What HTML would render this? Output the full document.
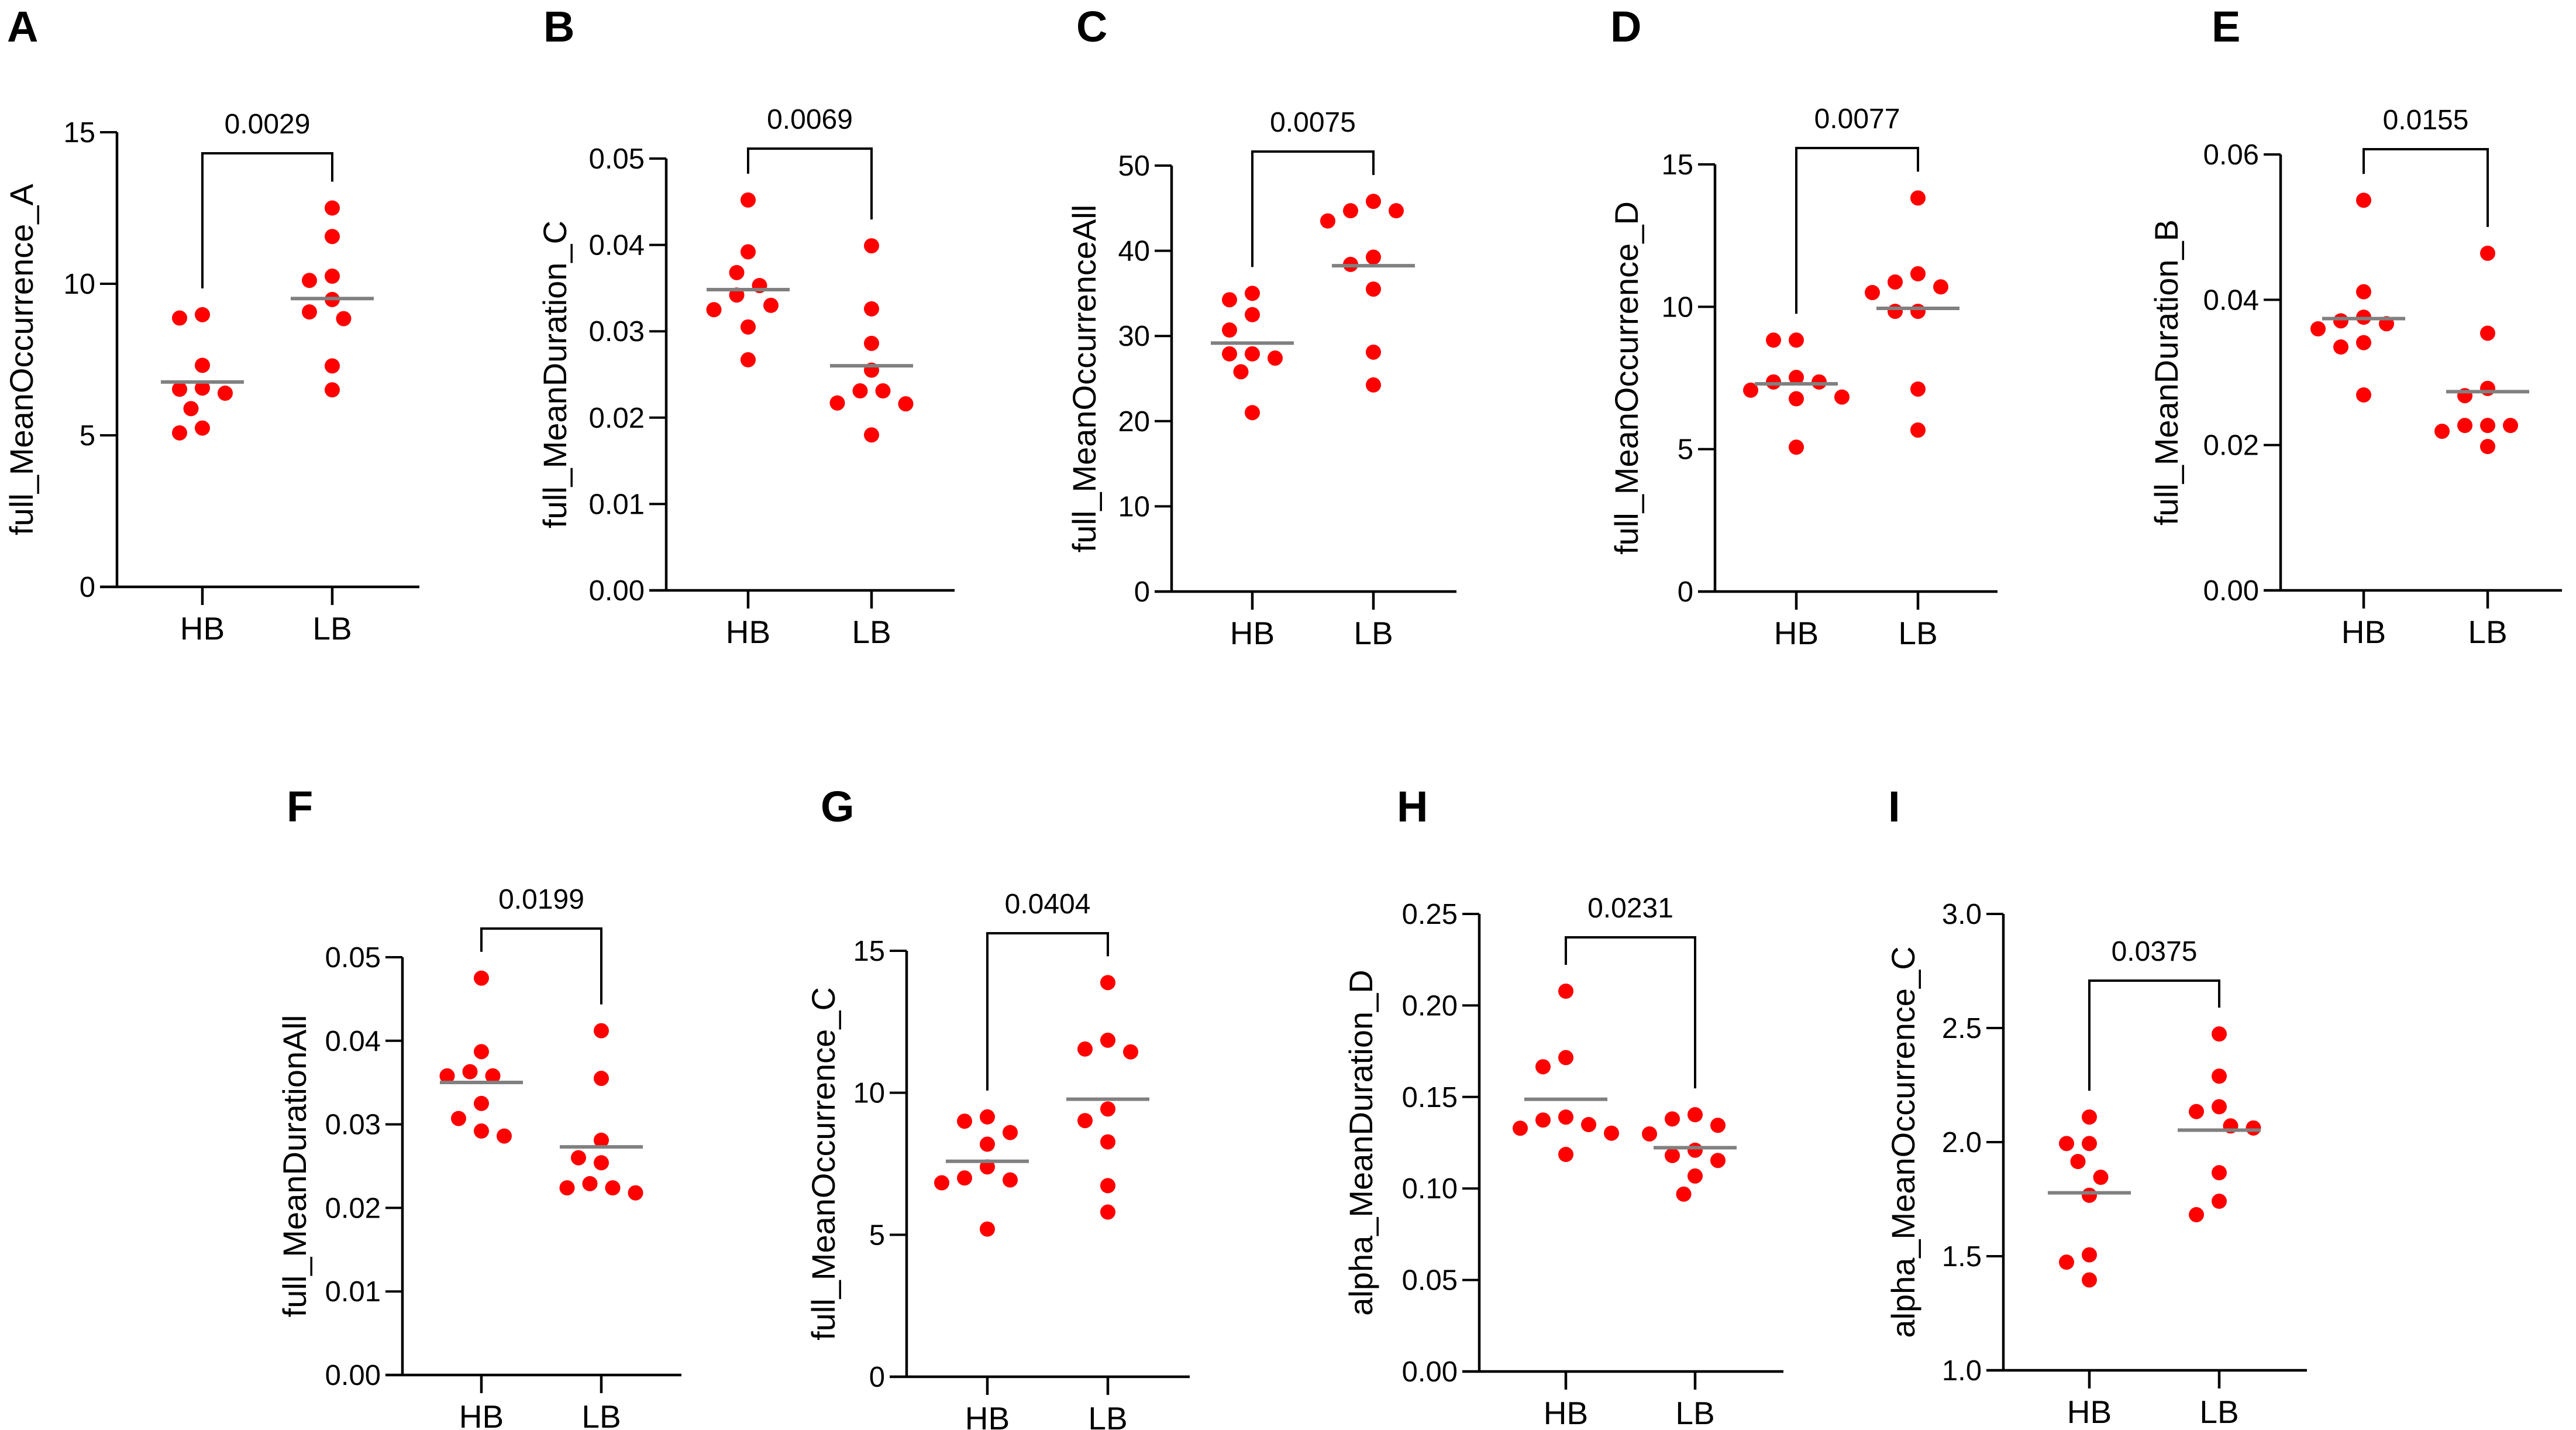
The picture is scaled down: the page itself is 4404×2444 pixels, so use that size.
<!DOCTYPE html>
<html><head><meta charset="utf-8"><style>
html,body{margin:0;padding:0;background:#fff;}
svg{display:block;font-family:"Liberation Sans",Arial,sans-serif;}
</style></head><body>
<svg id="fig" width="4404" height="2444" viewBox="0 0 4404 2444" xmlns="http://www.w3.org/2000/svg"></svg>
<script>
// ---- data ----
const panelLetters = ["A","B","C","D","E","F","G","H","I"];
const yTitles = ["full_MeanOccurrence_A","full_MeanDuration_C","full_MeanOccurrenceAll","full_MeanOccurrence_D","full_MeanDuration_B","full_MeanDurationAll","full_MeanOccurrence_C","alpha_MeanDuration_D","alpha_MeanOccurrence_C"];
const pValues = ["0.0029","0.0069","0.0075","0.0077","0.0155","0.0199","0.0404","0.0231","0.0375"];
const groups = ["HB","LB"];
const yDomains = [[0,15],[0,0.05],[0,50],[0,15],[0,0.06],[0,0.05],[0,15],[0,0.25],[1,3]];
const yTickSets = [[0,5,10,15],[0,0.01,0.02,0.03,0.04,0.05],[0,10,20,30,40,50],[0,5,10,15],[0,0.02,0.04,0.06],[0,0.01,0.02,0.03,0.04,0.05],[0,5,10,15],[0,0.05,0.10,0.15,0.20,0.25],[1.0,1.5,2.0,2.5,3.0]];
const yTickDecimals = [0,2,0,0,2,2,0,2,1];
const hbA = [8.87,8.98,7.31,6.52,6.39,6.56,5.88,5.24,5.08];
const lbA = [12.5,11.56,10.11,10.25,9.48,8.85,9.07,7.29,6.5];
const hbB = [0.0452,0.0392,0.0368,0.0353,0.0342,0.0325,0.0330,0.0305,0.0267];
const lbB = [0.0399,0.0326,0.0286,0.0255,0.0231,0.0231,0.0217,0.0216,0.0180];
const hbC = [35.0,34.25,32.5,30.7,27.9,27.9,27.4,25.8,21.0];
const lbC = [45.8,44.7,44.7,43.5,39.25,38.4,35.5,28.1,24.25];
const hbD = [8.83,8.83,7.52,7.36,7.36,7.07,6.83,6.77,5.07];
const lbD = [13.82,11.16,10.87,10.7,10.5,9.84,9.84,7.11,5.67];
const hbE = [0.0537,0.0411,0.0376,0.0367,0.0371,0.0360,0.0341,0.0335,0.0269];
const lbE = [0.0464,0.0354,0.0278,0.0268,0.0227,0.0227,0.0227,0.0219,0.0198];
const hbF = [0.0475,0.0387,0.0363,0.0358,0.0358,0.0325,0.0307,0.0292,0.0286];
const lbF = [0.0412,0.0355,0.0281,0.0260,0.0254,0.0229,0.0224,0.0224,0.0218];
const hbG = [9.15,9.0,8.6,8.19,7.39,7.0,6.93,6.83,5.2];
const lbG = [13.88,11.85,11.54,11.44,9.43,9.02,8.27,6.73,5.8];
const hbH = [0.2078,0.1715,0.1665,0.139,0.1374,0.1349,0.1329,0.1302,0.1186];
const lbH = [0.1403,0.138,0.1345,0.1298,0.1209,0.118,0.1153,0.1068,0.0969];
const hbI = [2.11,1.994,1.994,1.915,1.846,1.767,1.506,1.474,1.396];
const lbI = [2.474,2.289,2.155,2.134,2.071,2.062,1.866,1.741,1.682];
const hbSeries = [hbA,hbB,hbC,hbD,hbE,hbF,hbG,hbH,hbI];
const lbSeries = [lbA,lbB,lbC,lbD,lbE,lbF,lbG,lbH,lbI];

// ---- layout (pixels) ----
const layout = [
 {ax:200, yt:226, yb:1003, xe:717, hb:346, lb:568, br:262, to:159, lx:12, ly:71},
 {ax:1139,yt:271, yb:1009, xe:1632,hb:1279,lb:1490,br:254, to:186, lx:929, ly:71},
 {ax:2003,yt:283, yb:1011, xe:2490,hb:2141,lb:2348,br:259, to:145, lx:1840, ly:71},
 {ax:2932,yt:281, yb:1011, xe:3415,hb:3071,lb:3279,br:253, to:147, lx:2753, ly:71},
 {ax:3899,yt:264, yb:1009, xe:4380,hb:4041,lb:4253,br:255, to:191, lx:3781, ly:71},
 {ax:688, yt:1636,yb:2350, xe:1165,hb:823, lb:1028,br:1587,to:180, lx:490, ly:1404},
 {ax:1550,yt:1625,yb:2353, xe:2034,hb:1688,lb:1894,br:1595,to:138, lx:1403, ly:1404},
 {ax:2529,yt:1562,yb:2344, xe:3049,hb:2677,lb:2898,br:1602,to:198, lx:2388, ly:1404},
 {ax:3425,yt:1562,yb:2342, xe:3944,hb:3572,lb:3794,br:1676,to:167, lx:3228, ly:1404}
];
const NS = "http://www.w3.org/2000/svg";
const svg = document.getElementById("fig");
function mk(tag, attrs, parent){
  const e = document.createElementNS(NS, tag);
  for (const k in attrs) e.setAttribute(k, attrs[k]);
  parent.appendChild(e);
  return e;
}
const R = 13, HALF = 19.5, MINDIST = 36;
function swarm(ys){
  const idx = ys.map((y,i)=>i).sort((a,b)=>ys[a]-ys[b]);
  const off = new Array(ys.length).fill(0);
  const placed = [];
  idx.forEach(i=>{
    const cands=[0];
    for(let k=1;k<8;k++){cands.push(-k*HALF);cands.push(k*HALF);}
    for(const c of cands){
      let ok=true;
      for(const p of placed){
        const dx=c-p.x, dy=ys[i]-p.y;
        if(Math.sqrt(dx*dx+dy*dy)<MINDIST){ok=false;break;}
      }
      if(ok){off[i]=c;placed.push({x:c,y:ys[i]});break;}
    }
  });
  return off;
}

for (let p=0;p<9;p++){
  const L = layout[p];
  const dom = yDomains[p];
  const yScale = v => L.yb - (v-dom[0])/(dom[1]-dom[0])*(L.yb-L.yt);
  const g = mk("g",{},svg);
  
  

  const letter = mk("text",{x:L.lx,y:L.ly,"font-size":74,"font-weight":"bold",fill:"#000"},g);
  
  
  letter.textContent = panelLetters[p];

  const yAxis = mk("line",{x1:L.ax,y1:L.yt,x2:L.ax,y2:L.yb+2,stroke:"#000","stroke-width":4.5},g);
  
  
  const xAxis = mk("line",{x1:L.ax-29,y1:L.yb,x2:L.xe,y2:L.yb,stroke:"#000","stroke-width":4.5},g);
  
  

  yTickSets[p].forEach(t=>{
    const y = yScale(t);
    if (t!==dom[0]){
      const tk = mk("line",{x1:L.ax-29,y1:y,x2:L.ax,y2:y,stroke:"#000","stroke-width":4},g);
      
      
    }
    const tl = mk("text",{x:L.ax-37,y:y+17,"font-size":49,"text-anchor":"end",fill:"#000"},g);
    
    
    tl.textContent = t.toFixed(yTickDecimals[p]);
  });

  const midY = (L.yt+L.yb)/2, tx = L.ax - L.to;
  const title = mk("text",{x:tx,y:midY,"font-size":56,"text-anchor":"middle",fill:"#000",transform:`rotate(-90 ${tx} ${midY})`,"dominant-baseline":"middle"},g);
  
  
  title.textContent = yTitles[p];

  const series = [hbSeries[p], lbSeries[p]];
  const cx = [L.hb, L.lb];
  const maxY = [];
  series.forEach((vals,gi)=>{
    const tk = mk("line",{x1:cx[gi],y1:L.yb,x2:cx[gi],y2:L.yb+31,stroke:"#000","stroke-width":4.5},g);
    
    
    const xl = mk("text",{x:cx[gi],y:L.yb+90,"font-size":55,"text-anchor":"middle",fill:"#000"},g);
    
    
    xl.textContent = groups[gi];

    const ys = vals.map(yScale);
    const offs = swarm(ys);
    ys.forEach((y,i)=>{
      const c = mk("circle",{cx:cx[gi]+offs[i],cy:y,r:R,fill:"#ff0000"},g);
      
      
    });
    const mean = vals.reduce((a,b)=>a+b,0)/vals.length;
    const my = yScale(mean);
    const ml = mk("line",{x1:cx[gi]-71,y1:my,x2:cx[gi]+71,y2:my,stroke:"#808080","stroke-width":6},g);
    
    
    maxY.push(Math.min(...ys));
  });

  const br = mk("polyline",{points:`${L.hb},${maxY[0]-45} ${L.hb},${L.br} ${L.lb},${L.br} ${L.lb},${maxY[1]-45}`,fill:"none",stroke:"#000","stroke-width":4},g);
  
  
  const pt = mk("text",{x:(L.hb+L.lb)/2,y:L.br-34,"font-size":48,"text-anchor":"middle",fill:"#000"},g);
  
  
  pt.textContent = pValues[p];
}
</script>
</body></html>
